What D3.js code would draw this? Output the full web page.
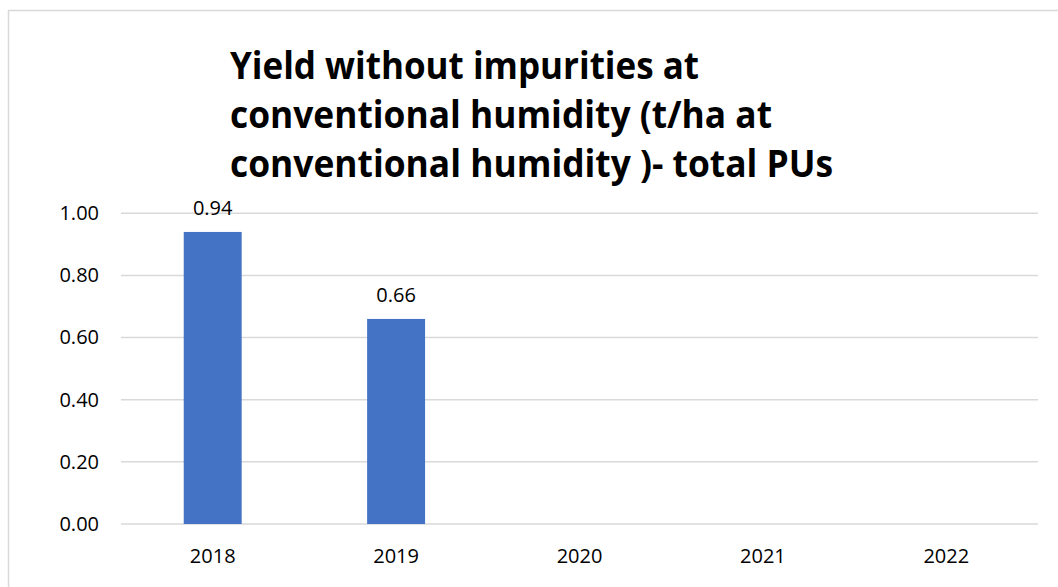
<!DOCTYPE html>
<html>
<head>
<meta charset="utf-8">
<script src="https://cdn.jsdelivr.net/npm/d3@7"></script>
<style>
  html, body { margin: 0; padding: 0; background: #fff; }
  svg { display: block; font-family: "Open Sans", sans-serif; }
</style>
</head>
<body>
<svg id="chart" width="1058" height="587"></svg>
<script>
const years = ['2018', '2019', '2020', '2021', '2022']
const yieldValues = [0.94, 0.66, null, null, null]
const yTicks = [0, 0.2, 0.4, 0.6, 0.8, 1.0]
const titleLines = [
  'Yield without impurities at',
  'conventional humidity (t/ha at',
  'conventional humidity )- total PUs',
]

const BAR_COLOR = '#4472C4'
const GRID_COLOR = '#d9d9d9'
const plot = { left: 121, right: 1038, top: 213.3, bottom: 524 }

const svg = d3.select('#chart')

// outer chart frame (runs off the right and bottom edge)
svg.append('rect')
  .attr('x', 8.5).attr('y', 10.5)
  .attr('width', 1100).attr('height', 700)
  .attr('fill', 'none')
  .attr('stroke', GRID_COLOR)
  .attr('stroke-width', 1.5)

const x = d3.scaleBand().domain(years).range([plot.left, plot.right])
const y = d3.scaleLinear().domain([0, 1]).range([plot.bottom, plot.top])
const barWidth = x.bandwidth() * 0.316

// gridlines
svg.append('g')
  .selectAll('line')
  .data(yTicks)
  .join('line')
  .attr('x1', plot.left).attr('x2', plot.right)
  .attr('y1', (d) => y(d)).attr('y2', (d) => y(d))
  .attr('stroke', GRID_COLOR)
  .attr('stroke-width', 1.5)

// y axis labels
const yAxis = svg.append('g')
  .attr('transform', `translate(${plot.left - 22},0)`)
  .call(d3.axisLeft(y).tickValues(yTicks).tickFormat(d3.format('.2f')).tickSize(0).tickPadding(0))
yAxis.select('.domain').remove()
yAxis.selectAll('text')
  .attr('font-family', '"Open Sans", sans-serif')
  .attr('font-size', 20)
  .attr('fill', '#000')

// x axis labels
const xAxis = svg.append('g')
  .attr('transform', `translate(0,${plot.bottom})`)
  .call(d3.axisBottom(x).tickSize(0).tickPadding(0))
xAxis.select('.domain').remove()
xAxis.selectAll('text')
  .attr('dy', null)
  .attr('y', 38.5)
  .attr('font-family', '"Open Sans", sans-serif')
  .attr('font-size', 20)
  .attr('fill', '#000')

const data = years.map((year, i) => ({ year, value: yieldValues[i] })).filter((d) => d.value != null)

// bars
svg.append('g')
  .selectAll('rect')
  .data(data)
  .join('rect')
  .attr('x', (d) => x(d.year) + x.bandwidth() / 2 - barWidth / 2)
  .attr('width', barWidth)
  .attr('y', (d) => y(d.value))
  .attr('height', (d) => y(0) - y(d.value))
  .attr('fill', BAR_COLOR)

// value labels
svg.append('g')
  .selectAll('text')
  .data(data)
  .join('text')
  .attr('x', (d) => x(d.year) + x.bandwidth() / 2)
  .attr('y', (d) => y(d.value) - 17)
  .attr('text-anchor', 'middle')
  .attr('font-size', 20)
  .attr('fill', '#000')
  .text((d) => d.value.toFixed(2))

// title, left aligned, three lines
const titleWidths = [469, 542, 603]
svg.append('g')
  .selectAll('text')
  .data(titleLines)
  .join('text')
  .attr('x', 230)
  .attr('y', (d, i) => 79 + i * 49)
  .attr('font-size', 37)
  .attr('font-weight', 'bold')
  .attr('fill', '#000')
  .attr('textLength', (d, i) => titleWidths[i])
  .attr('lengthAdjust', 'spacingAndGlyphs')
  .text((d) => d)
</script>
</body>
</html>
